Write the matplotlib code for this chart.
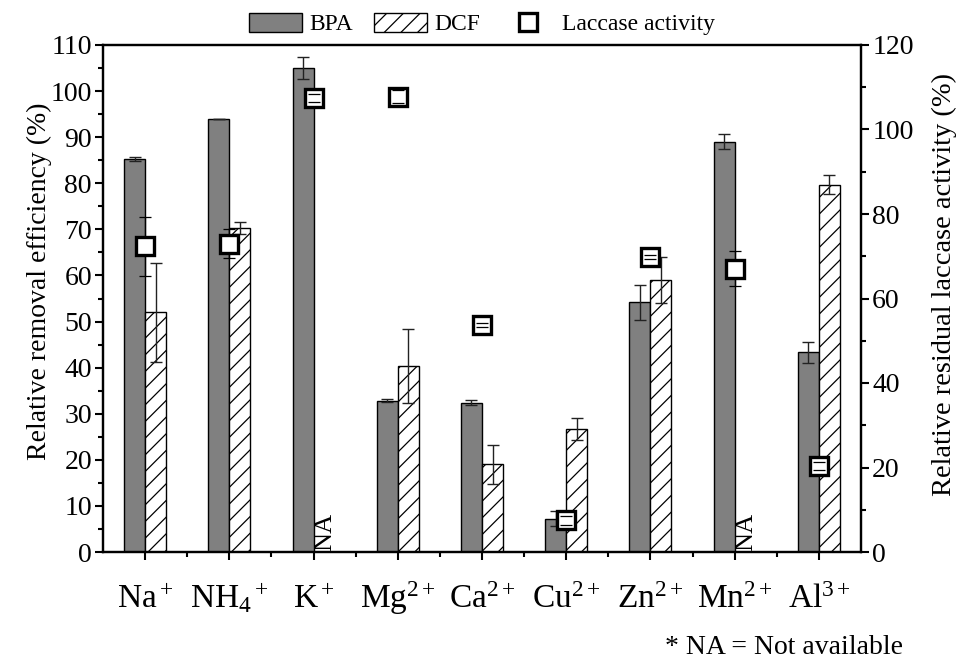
import numpy as np
import matplotlib
matplotlib.use('Agg')
import matplotlib.pyplot as plt
from matplotlib.patches import Patch
from matplotlib.lines import Line2D
from matplotlib.ticker import MultipleLocator

plt.rcParams['font.family'] = ['Liberation Serif', 'DejaVu Serif']
plt.rcParams['mathtext.fontset'] = 'custom'
plt.rcParams['mathtext.rm'] = 'Liberation Serif'
plt.rcParams['mathtext.it'] = 'Liberation Serif:italic'
plt.rcParams['mathtext.bf'] = 'Liberation Serif:bold'
plt.rcParams['hatch.linewidth'] = 0.9

ions = ['Na$^+$', 'NH$_4$$^+$', 'K$^+$', 'Mg$^{2+}$', 'Ca$^{2+}$',
        'Cu$^{2+}$', 'Zn$^{2+}$', 'Mn$^{2+}$', 'Al$^{3+}$']
bpa = [85.3, 94.0, 105.0, 32.8, 32.4, 7.2, 54.2, 89.0, 43.3]
bpa_err = [0.5, 0.0, 2.3, 0.3, 0.5, 1.6, 3.8, 1.6, 2.2]
dcf = [52.0, 70.3, np.nan, 40.4, 19.0, 26.7, 59.0, np.nan, 79.7]
dcf_err = [10.7, 1.3, np.nan, 8.0, 4.2, 2.3, 4.9, np.nan, 2.1]
laccase = [72.4, 73.0, 107.5, 107.8, 53.7, 7.5, 69.9, 67.1, 20.3]
laccase_err = [7.0, 3.5, 1.0, 1.5, 0.5, 1.0, 0.5, 4.2, 1.0]

x = np.arange(len(ions))
w = 0.25

fig = plt.figure(figsize=(9.56, 6.61), dpi=100)
ax = fig.add_axes([103/956, 1-552/661, (861-103)/956, (552-45)/661])

ax.bar(x - w/2, bpa, w, color='#808080', edgecolor='black', linewidth=1, zorder=2)
ax.errorbar(x - w/2, bpa, yerr=bpa_err, fmt='none', ecolor='#222222',
            elinewidth=1, capsize=4, capthick=1, zorder=3)
ax.bar(x + w/2, np.nan_to_num(dcf), w, color='white', edgecolor='black',
       hatch='//', linewidth=1, zorder=2)
ax.errorbar(x + w/2, dcf, yerr=dcf_err, fmt='none', ecolor='#222222',
            elinewidth=1, capsize=4, capthick=1, zorder=3)

for i in range(len(ions)):
    if np.isnan(dcf[i]):
        ax.text(x[i] + 0.135, 0.3, 'NA', rotation=90, ha='center', va='bottom',
                fontsize=19, zorder=4)

ax.set_xlim(-0.5, len(ions) - 0.5)
ax.set_ylim(0, 110)
ax.yaxis.set_major_locator(MultipleLocator(10))
ax.yaxis.set_minor_locator(MultipleLocator(5))
ax.set_xticks(x)
ax.set_xticklabels(ions, fontsize=24)
for lab in ax.get_xticklabels():
    lab.set_verticalalignment('baseline')
ax.set_xticks(x[:-1] + 0.5, minor=True)
ax.tick_params(axis='y', which='major', direction='out', length=6, width=1.5, labelsize=20, pad=2)
ax.tick_params(axis='y', which='minor', direction='out', length=3.5, width=1.5)
ax.tick_params(axis='x', which='major', direction='out', length=6, width=1.5, pad=34)
ax.tick_params(axis='x', which='minor', direction='out', length=3.5, width=1.5)
for s in ax.spines.values():
    s.set_linewidth(1.6)
ax.set_ylabel('Relative removal efficiency (%)', fontsize=20, labelpad=-1)
ax.yaxis.label.set_y(0.535)

ax2 = ax.twinx()
ax2.set_ylim(0, 120)
ax2.yaxis.set_major_locator(MultipleLocator(20))
ax2.yaxis.set_minor_locator(MultipleLocator(10))
ax2.tick_params(axis='y', which='major', direction='out', length=6, width=1.5, labelsize=20, pad=2)
ax2.tick_params(axis='y', which='minor', direction='out', length=3.5, width=1.5)
for s in ax2.spines.values():
    s.set_linewidth(1.6)
ax2.set_ylabel('Relative residual laccase activity (%)', fontsize=20.5, labelpad=13)
ax2.yaxis.label.set_y(0.527)

eb = ax2.errorbar(x, laccase, yerr=laccase_err, fmt='none', ecolor='black',
                  elinewidth=0.9, capsize=4, capthick=0.9, zorder=4)
for c in eb[1]:
    c.set_zorder(6)
ax2.plot(x, laccase, 's', ms=13.5, mfc='white', mec='black', mew=2.4,
         linestyle='none', zorder=5)

handles = [Patch(facecolor='#808080', edgecolor='black', label='BPA'),
           Patch(facecolor='white', edgecolor='black', hatch='//', label='DCF'),
           Line2D([], [], marker='s', ms=12.5, mfc='white', mec='black', mew=2.4,
                  linestyle='none', label='Laccase activity')]
ax2.legend(handles=handles, ncol=3, loc='center', bbox_to_anchor=(0.5, 1 + 21/507),
           frameon=False, fontsize=17, handlelength=2.25, handleheight=0.85,
           handletextpad=0.3, columnspacing=0.9, borderaxespad=0.0,
           borderpad=0.0)

fig.text(903/956, 1 - 648/661, '* NA = Not available', ha='right', va='center', fontsize=20)

fig.savefig('out.png', dpi=100)
